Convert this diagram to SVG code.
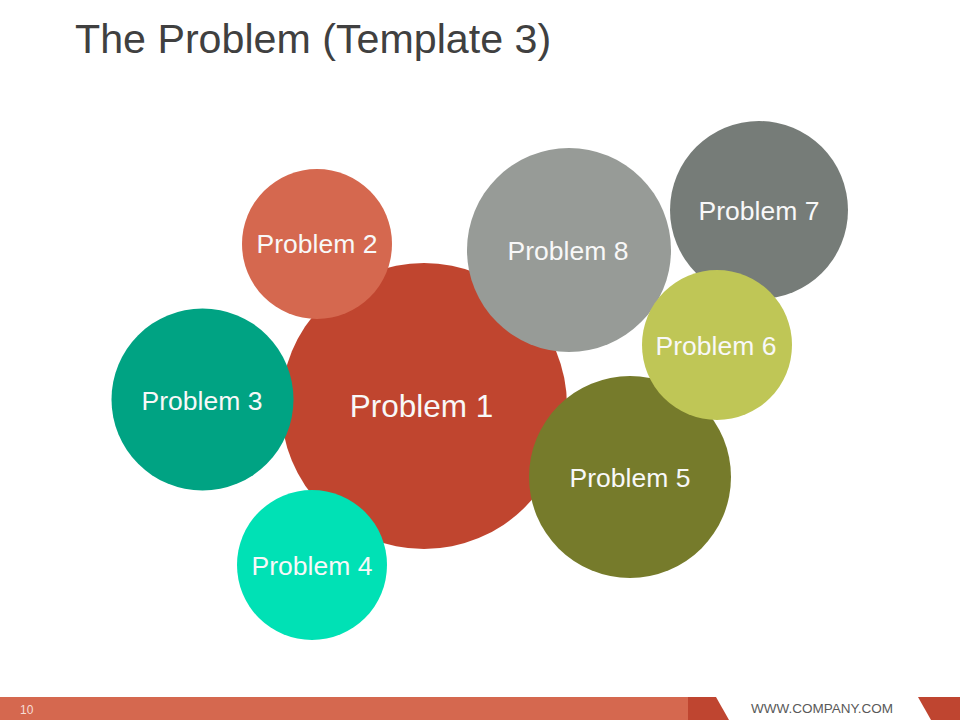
<svg xmlns="http://www.w3.org/2000/svg" width="960" height="720" viewBox="0 0 960 720">
<style>
  .lbl { font-family: "Liberation Sans", Arial, sans-serif; font-size: 26.5px; fill: #F8F8F8; text-anchor: middle; }
  .title { font-family: "Liberation Sans", Arial, sans-serif; font-size: 41.2px; fill: #404040; }
</style>
<rect x="0" y="0" width="960" height="720" fill="#FFFFFF"/>
<text class="title" x="75" y="53">The Problem (Template 3)</text>
<g id="problem1"><circle cx="424" cy="406" r="143" fill="#C0452F"/><text class="lbl" x="421.5" y="416.5" style="font-size:31.5px">Problem 1</text></g>
<g id="problem7"><circle cx="759" cy="210" r="89" fill="#767C78"/><text class="lbl" x="759" y="220">Problem 7</text></g>
<g id="problem8"><circle cx="569" cy="250" r="102" fill="#979B97"/><text class="lbl" x="568" y="260">Problem 8</text></g>
<g id="problem5"><circle cx="630" cy="477" r="101" fill="#767B2B"/><text class="lbl" x="630" y="487">Problem 5</text></g>
<g id="problem6"><circle cx="717" cy="345" r="75" fill="#BFC656"/><text class="lbl" x="716" y="355">Problem 6</text></g>
<g id="problem2"><circle cx="317" cy="244" r="75" fill="#D5684F"/><text class="lbl" x="317" y="253">Problem 2</text></g>
<g id="problem3"><circle cx="202.5" cy="399.5" r="91" fill="#00A383"/><text class="lbl" x="202" y="410">Problem 3</text></g>
<g id="problem4"><circle cx="312" cy="565" r="75" fill="#00E1B5"/><text class="lbl" x="312" y="575">Problem 4</text></g>
<g id="connectors"></g>
<g id="footer">
  <rect x="0" y="697" width="690" height="23" fill="#D5684F"/>
  <polygon points="688,697 716,697 729,720 688,720" fill="#BF4530"/>
  <polygon points="918,697 960,697 960,720 931,720" fill="#BF4530"/>
  <text x="20" y="714" font-family="Liberation Sans, Arial, sans-serif" font-size="12" fill="#F6DDD6">10</text>
  <text x="822" y="713" font-family="Liberation Sans, Arial, sans-serif" font-size="13.5" fill="#595959" text-anchor="middle">WWW.COMPANY.COM</text>
</g>
</svg>
